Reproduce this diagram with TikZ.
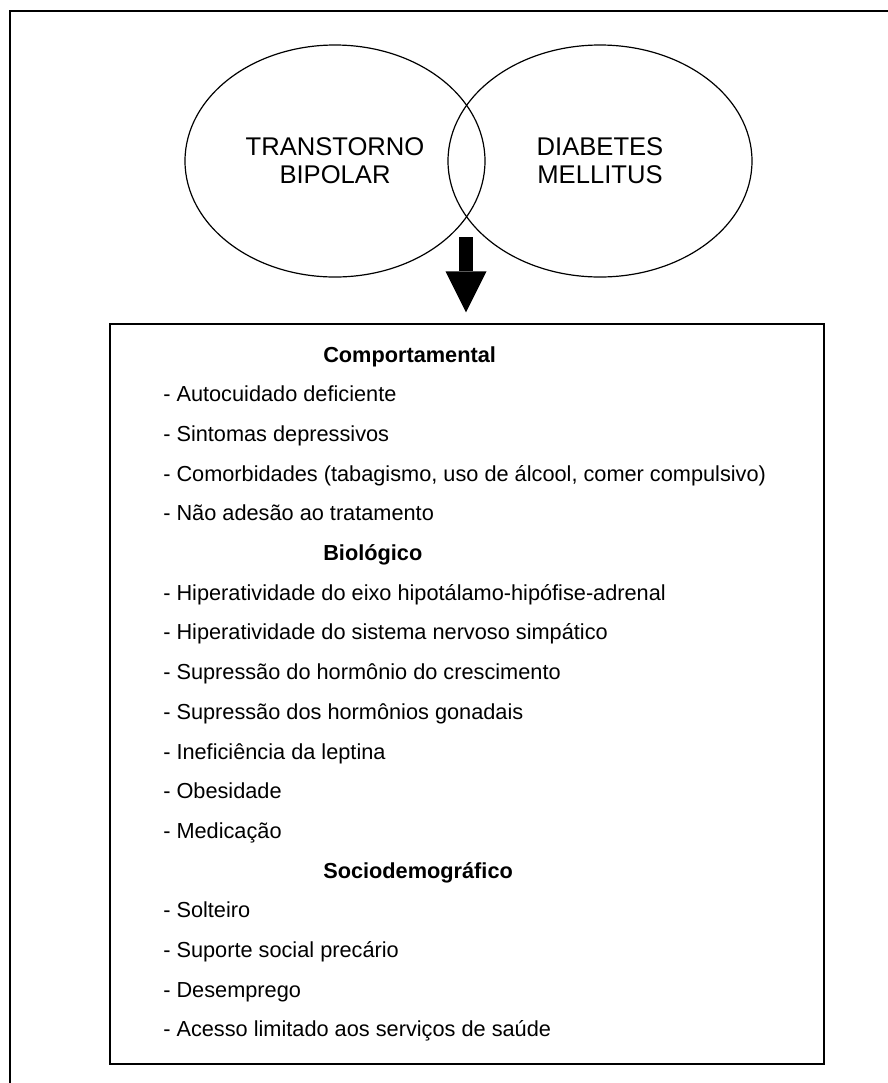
\documentclass[tikz,border=0pt]{standalone}
\usepackage{fontspec}
\setmainfont{Liberation Sans}
\usetikzlibrary{shapes.geometric,arrows.meta}

\begin{document}
\begin{tikzpicture}[x=0.75pt, y=-0.75pt,
    circ/.style={ellipse, draw, line width=0.9pt, minimum height=174pt, align=center, inner sep=0pt, font=\fontsize{19.2}{21}\selectfont},
    head/.style={anchor=base west, inner sep=0pt, font=\fontsize{16.3}{19}\selectfont\bfseries},
    item/.style={anchor=base west, inner sep=0pt, font=\fontsize{16.3}{19}\selectfont}]
  \useasboundingbox (0,0) rectangle (888,1083);
  \draw[line width=1.5pt] (10,1083) |- (888,11);

  \node[circ, minimum width=225pt] (tb) at (335,161) {TRANSTORNO\\BIPOLAR};
  \node[circ, minimum width=228pt] (dm) at (600,161) {DIABETES\\MELLITUS};

  \node[draw, line width=1.4pt, minimum width=535.5pt, minimum height=555pt, inner sep=0pt] (box) at (467,694) {};

  \coordinate (arrowtop) at (466,237);
  \draw[line width=10.5pt, -{Triangle[length=30.75pt, width=30.75pt, line width=0pt]}, shorten >=8pt]
    (arrowtop) -- (box.north -| arrowtop);

  \node[head] (comp) at (323,362) {Comportamental};
  \foreach \k/\txt in {1/Autocuidado deficiente, 2/Sintomas depressivos,
      3/{Comorbidades (tabagismo, uso de álcool, comer compulsivo)}, 4/Não adesão ao tratamento}
    \node[item] (item\k) at (163,362+39.7*\k) {- \txt};

  \node[head] (bio) at (323,560.5) {Biológico};
  \foreach \k/\txt in {6/Hiperatividade do eixo hipotálamo-hipófise-adrenal,
      7/Hiperatividade do sistema nervoso simpático, 8/Supressão do hormônio do crescimento,
      9/Supressão dos hormônios gonadais, 10/Ineficiência da leptina, 11/Obesidade, 12/Medicação}
    \node[item] (item\k) at (163,362+39.7*\k) {- \txt};

  \node[head] (socio) at (323,878.1) {Sociodemográfico};
  \foreach \k/\txt in {14/Solteiro, 15/Suporte social precário, 16/Desemprego,
      17/Acesso limitado aos serviços de saúde}
    \node[item] (item\k) at (163,362+39.7*\k) {- \txt};
\end{tikzpicture}
\end{document}
